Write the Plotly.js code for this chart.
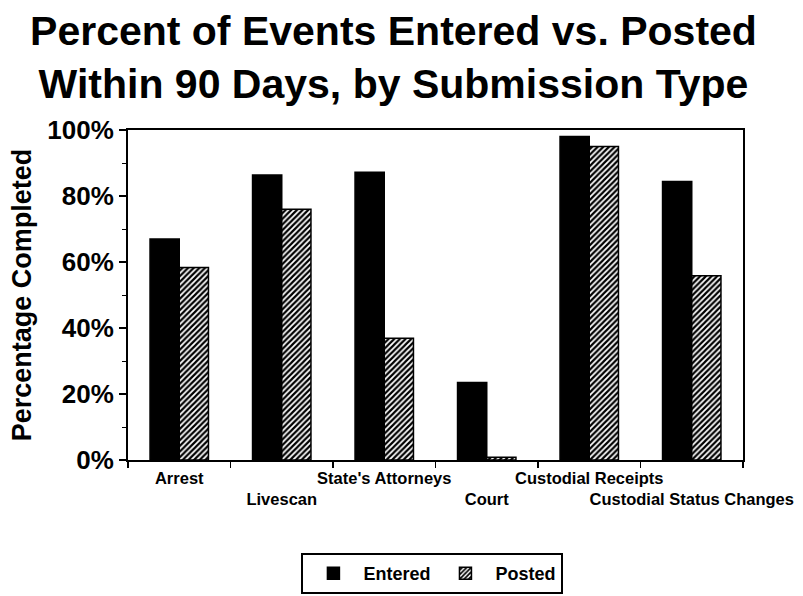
<!DOCTYPE html>
<html>
<head>
<meta charset="utf-8">
<script src="https://cdn.plot.ly/plotly-3.0.1.min.js"></script>
<style>html,body{margin:0;padding:0;background:#fff;}#chart{width:803px;height:596px;}</style>
</head>
<body>
<div id="chart"></div>
<script>
const categories = ["Arrest", "Livescan", "State's Attorneys", "Court", "Custodial Receipts", "Custodial Status Changes"];
const entered = [67, 86.4, 87.2, 23.5, 98, 84.4];
const posted = [58.3, 76, 36.9, 0.8, 95, 55.8];
const yTickVals = [0, 20, 40, 60, 80, 100];
const yTickText = ["0%", "20%", "40%", "60%", "80%", "100%"];

const tickText = categories.map((c, i) => i % 2 === 0 ? c : "\u00a0<br>" + c);

const FONT = "Liberation Sans, Arial, sans-serif";

const traces = [
  {
    type: "bar", name: "Entered", x: categories, y: entered,
    marker: {color: "#000000", line: {color: "#000000", width: 1.5}}
  },
  {
    type: "bar", name: "Posted", x: categories, y: posted,
    marker: {color: "#ffffff", line: {color: "#000000", width: 1.5},
      pattern: {shape: "/", size: 4, solidity: 0.55, fgcolor: "#000000", bgcolor: "#ffffff"}}
  }
];

const layout = {
  width: 803, height: 596,
  paper_bgcolor: "#ffffff", plot_bgcolor: "#ffffff",
  margin: {l: 128, r: 60, t: 130, b: 136, autoexpand: false},
  font: {family: FONT, color: "#000000"},
  title: {
    text: "<b>Percent of Events Entered vs. Posted<br>Within 90 Days, by Submission Type</b>",
    font: {family: FONT, size: 41, color: "#000000"},
    x: 0.49, xanchor: "center", yref: "container", y: 0.925, yanchor: "bottom"
  },
  barmode: "group",
  bargap: 0.43, bargroupgap: 0,
  xaxis: {
    type: "category", automargin: false,
    tickmode: "array", tickvals: categories, ticktext: tickText,
    tickson: "boundaries", ticks: "outside", ticklen: 6, tickwidth: 1.5, tickcolor: "#000",
    showline: true, linecolor: "#000", linewidth: 2, mirror: true,
    showgrid: false, zeroline: false,
    tickfont: {family: FONT, size: 16.5, color: "#000", weight: "bold"},
    tickangle: 0, ticklabelstandoff: 2
  },
  yaxis: {
    range: [0, 100], automargin: false,
    tickmode: "array", tickvals: yTickVals, ticktext: yTickText,
    ticks: "outside", ticklen: 7, tickwidth: 1.5, tickcolor: "#000",
    minor: {dtick: 10, ticks: "outside", ticklen: 4, tickwidth: 1, tickcolor: "#000", showgrid: false},
    showline: true, linecolor: "#000", linewidth: 2, mirror: true,
    showgrid: false, zeroline: false,
    tickfont: {family: FONT, size: 26, color: "#000", weight: "bold"},
    title: {text: "<b>Percentage Completed</b>", font: {family: FONT, size: 27, color: "#000"}, standoff: 8}
  },
  showlegend: true,
  legend: {
    orientation: "h", x: 0.495, xanchor: "center", y: -0.282, yanchor: "top",
    bordercolor: "#000", borderwidth: 2, bgcolor: "#fff",
    font: {family: FONT, size: 18, color: "#000", weight: "bold"},
    itemwidth: 50
  }
};

Plotly.newPlot("chart", traces, layout, {staticPlot: true, displayModeBar: false});
</script>
</body>
</html>
